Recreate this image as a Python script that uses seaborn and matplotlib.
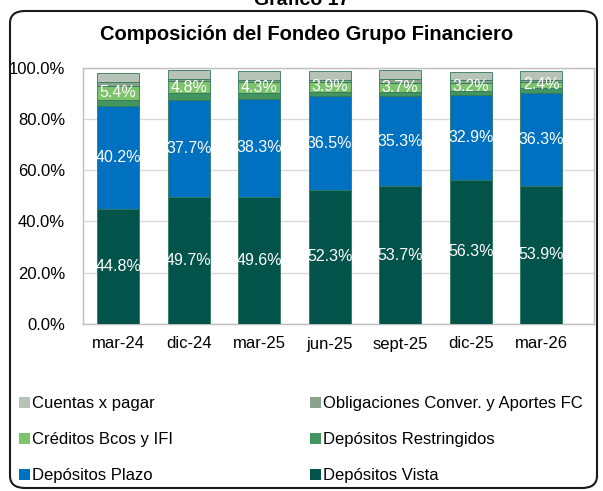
import matplotlib
matplotlib.use("Agg")
import matplotlib.pyplot as plt
import numpy as np
import pandas as pd
import seaborn as sns
from matplotlib.patches import FancyBboxPatch, Patch

# Data (percent of total funding)
periods = ["mar-24", "dic-24", "mar-25", "jun-25", "sept-25", "dic-25", "mar-26"]
dep_vista = [44.8, 49.7, 49.6, 52.3, 53.7, 56.3, 53.9]
dep_plazo = [40.2, 37.7, 38.3, 36.5, 35.3, 32.9, 36.3]
dep_restringidos = [2.5, 2.6, 2.4, 1.8, 1.5, 1.8, 1.9]
creditos_bcos = [5.4, 4.8, 4.3, 3.9, 3.7, 3.2, 2.4]
obligaciones = [1.4, 0.8, 0.7, 0.8, 1.5, 1.1, 0.8]
cuentas_pagar = [3.6, 3.4, 3.4, 3.5, 3.5, 3.1, 3.5]

series_names = ["Depósitos Vista", "Depósitos Plazo", "Depósitos Restringidos",
                "Créditos Bcos y IFI", "Obligaciones Conver. y Aportes FC", "Cuentas x pagar"]
series_values = [dep_vista, dep_plazo, dep_restringidos, creditos_bcos, obligaciones, cuentas_pagar]
labelled = [True, True, False, True, False, False]

COLORS = ["#02534A", "#0070C0", "#43955F", "#7CC36C", "#89A48B", "#B8C3B8"]
EDGE = "#2F7A5C"

sns.set_theme(style="white", rc={"text.color": "black", "xtick.color": "black",
                                 "ytick.color": "black"})
plt.rcParams["font.family"] = ["Liberation Sans", "DejaVu Sans"]

fig = plt.figure(figsize=(6.03, 4.91), dpi=100)
ax = fig.add_axes([83 / 603, 1 - 324 / 491, (594 - 83) / 603, (324 - 67.7) / 491])

bottom = np.zeros(len(periods))
for name, vals, col, lab in zip(series_names, series_values, COLORS, labelled):
    df = pd.DataFrame({"periodo": periods, "valor": vals})
    sns.barplot(data=df, x="periodo", y="valor", color=col, saturation=1, width=0.6,
                bottom=bottom, edgecolor=EDGE, linewidth=0.6, ax=ax, zorder=3)
    if lab:
        for i, v in enumerate(vals):
            ax.text(i, bottom[i] + v / 2, f"{v:.1f}%", ha="center", va="center",
                    color="white", fontsize=11.5, zorder=4)
    bottom = bottom + np.array(vals)

ax.set_ylim(0, 100)
ax.set_xlim(-0.5, 6.75)
ax.set_yticks(np.arange(0, 101, 20))
ax.set_yticklabels([f"{t:.1f}%" for t in range(0, 101, 20)])
ax.yaxis.grid(True, color="#D9D9D9", linewidth=1, zorder=0)
ax.set_axisbelow(True)
ax.set_xlabel("")
ax.set_ylabel("")
ax.tick_params(axis="both", length=0, labelsize=12, colors="black")
ax.tick_params(axis="y", pad=13)
ax.tick_params(axis="x", pad=9)
for s in ax.spines.values():
    s.set_visible(True)
    s.set_color("#BFBFBF")
    s.set_linewidth(1)

# Titles
fig.text(0.5, 1 - 5 / 491, "Gráfico 17", ha="center", va="baseline",
         fontsize=14, fontweight="bold")
fig.text(307 / 603, 1 - 35 / 491, "Composición del Fondeo Grupo Financiero",
         ha="center", va="center", fontsize=14.5, fontweight="bold")

# Outer rounded frame
frame = FancyBboxPatch((10 / 603, 3 / 491), 587 / 603, (488 - 11) / 491,
                       boxstyle="round,pad=0,rounding_size=0.025",
                       transform=fig.transFigure, fill=False,
                       edgecolor="#1A1A1A", linewidth=1.5)
fig.patches.append(frame)

# Legend: row-wise order as in the reference
order = [5, 3, 1, 4, 2, 0]
handles = [Patch(facecolor=COLORS[k], edgecolor="none") for k in order]
labels = [series_names[k] for k in order]
fig.legend(handles, labels, ncol=2, loc="upper left",
           bbox_to_anchor=(19 / 603, 1 - 396 / 491), frameon=False,
           fontsize=12, handlelength=0.66, handleheight=0.66, handletextpad=0.12,
           labelspacing=1.26, columnspacing=8.2, borderaxespad=0, borderpad=0)

fig.savefig("out.png", dpi=100)
